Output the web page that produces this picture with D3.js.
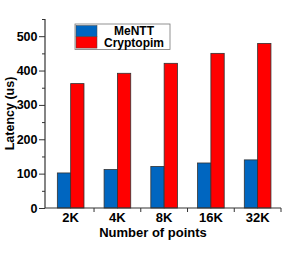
<!DOCTYPE html>
<meta charset="utf-8">
<style>
body { margin: 0; padding: 0; background: #fff; }
text { font-family: "Liberation Sans", Arial, sans-serif; font-weight: bold; }
</style>
<body>
<script src="https://d3js.org/d3.v7.min.js"></script>
<script>

var categories = ["2K", "4K", "8K", "16K", "32K"];
var seriesNames = ["MeNTT", "Cryptopim"];
var mentt = [102, 112, 121, 131, 140];
var cryptopim = [362, 392, 421, 450, 479];
var yTicks = [0, 100, 200, 300, 400, 500];
var colors = ["#0066c0", "#ff0000"];

var width = 287, height = 253;
var axisX = 45, axisY = 208, topY = 19, rightX = 281;

var svg = d3.select("body").append("svg")
    .attr("width", width)
    .attr("height", height);

var x = d3.scaleBand()
    .domain(categories)
    .range([47.3, rightX])
    .paddingInner(0.43)
    .paddingOuter(0.215);

var x1 = d3.scaleBand()
    .domain(seriesNames)
    .range([0, x.bandwidth()]);

var y = d3.scaleLinear()
    .domain([0, 550])
    .range([axisY, topY]);

var series = [mentt, cryptopim];

// bars
series.forEach(function(vals, si) {
  svg.append("g").selectAll("rect")
    .data(vals)
    .enter().append("rect")
      .attr("x", function(d, i) { return x(categories[i]) + x1(seriesNames[si]); })
      .attr("y", function(d) { return y(d); })
      .attr("width", x1.bandwidth())
      .attr("height", function(d) { return y(0) - y(d); })
      .style("fill", colors[si])
      .style("stroke", "#333")
      .style("stroke-width", 0.8);
});

// y axis, minor ticks first
var yAxisMinor = d3.axisLeft(y).tickValues(d3.range(50, 551, 100)).tickSize(3).tickFormat("");
svg.append("g")
    .attr("transform", "translate(" + axisX + ",0)")
    .call(yAxisMinor)
    .call(function(g) { g.select(".domain").remove(); })
    .selectAll("line").style("stroke", "#333");

var yAxis = d3.axisLeft(y).tickValues(yTicks).tickSize(6).tickPadding(1.5);
var gy = svg.append("g")
    .attr("transform", "translate(" + axisX + ",0)")
    .call(yAxis);
gy.selectAll("text").style("font-size", "12.5px").style("fill", "#000");
gy.selectAll("line").style("stroke", "#333");
gy.select(".domain").attr("d", "M0," + y(0) + "V" + y(550)).style("stroke", "#333").style("stroke-width", 1.2);

// x axis
var gx = svg.append("g")
    .attr("transform", "translate(0," + y(0) + ")");
gx.append("line")
    .attr("x1", axisX).attr("x2", rightX)
    .style("stroke", "#333").style("stroke-width", 1.2);
// ticks at group boundaries
var step = x.step();
categories.forEach(function(c, i) {
  var bx = x(c) + x.bandwidth() / 2 + step / 2;
  gx.append("line")
    .attr("x1", bx).attr("x2", bx).attr("y1", 0).attr("y2", 4)
    .style("stroke", "#333");
});
gx.selectAll("text.tick")
    .data(categories)
    .enter().append("text")
      .attr("class", "tick")
      .attr("x", function(d) { return x(d) + x.bandwidth() / 2; })
      .attr("y", 13.5)
      .attr("text-anchor", "middle")
      .style("font-size", "13px")
      .text(function(d) { return d; });

// axis titles
svg.append("text")
    .attr("x", 153)
    .attr("y", 237)
    .attr("text-anchor", "middle")
    .style("font-size", "13px")
    .text("Number of points");

svg.append("text")
    .attr("transform", "translate(14," + ((y(0) + y(550)) / 2) + ") rotate(-90)")
    .attr("text-anchor", "middle")
    .style("font-size", "12.5px")
    .text("Latency (us)");

// legend
var lg = svg.append("g").attr("transform", "translate(75,24)");
lg.append("rect")
    .attr("width", 95).attr("height", 25.5)
    .style("fill", "#fff").style("stroke", "#777").style("stroke-width", 0.8);
seriesNames.forEach(function(n, i) {
  lg.append("rect")
    .attr("x", 1).attr("y", 1.5 + i * 11.3)
    .attr("width", 21).attr("height", 11.3)
    .style("fill", colors[i]).style("stroke", "#444").style("stroke-width", 0.5);
  lg.append("text")
    .attr("x", 59).attr("y", 11 + i * 11.8)
    .attr("text-anchor", "middle")
    .style("font-size", "12px")
    .text(n);
});

</script>
